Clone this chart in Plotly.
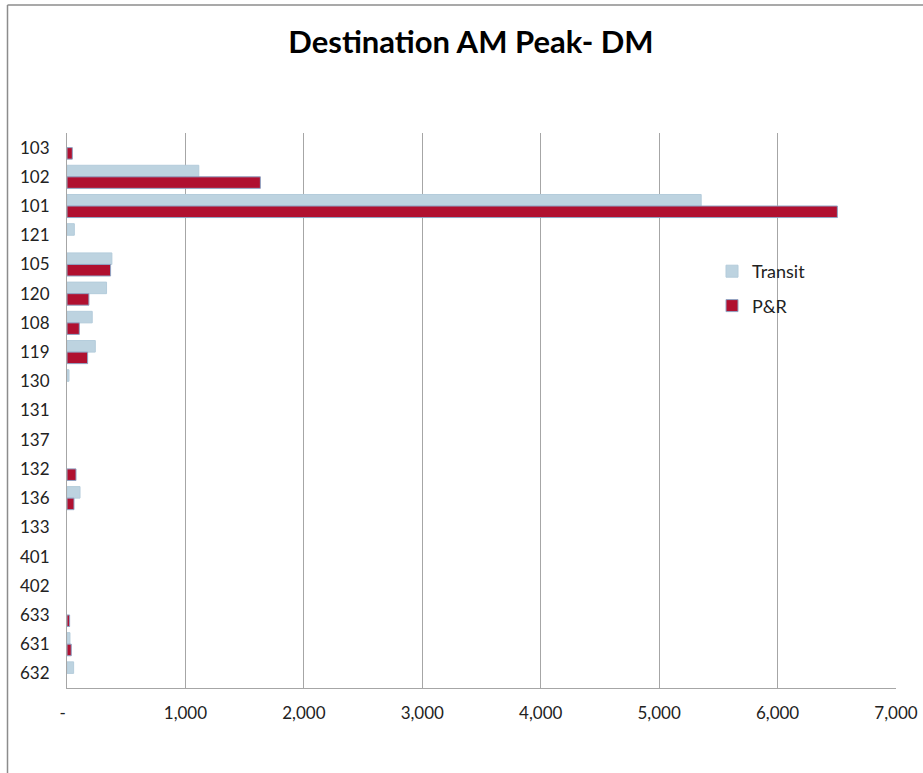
import plotly.graph_objects as go

categories = ["103", "102", "101", "121", "105", "120", "108", "119", "130", "131",
              "137", "132", "136", "133", "401", "402", "633", "631", "632"]
transit = [0, 1113, 5355, 62, 379, 334, 213, 239, 17, 0,
           0, 0, 110, 0, 0, 0, 0, 25, 56]
pnr = [45, 1633, 6505, 0, 368, 185, 104, 174, 0, 0,
       0, 76, 59, 0, 0, 0, 22, 36, 0]
x_ticks = [0, 1000, 2000, 3000, 4000, 5000, 6000, 7000]
x_tick_text = ["-\u00a0\u00a0", "1,000", "2,000", "3,000", "4,000", "5,000", "6,000", "7,000"]


def hide_zero(vals):
    return [v if v != 0 else None for v in vals]


fig = go.Figure()
fig.add_trace(go.Bar(
    y=categories, x=hide_zero(transit), orientation="h", name="Transit",
    legendgroup="t",
    marker=dict(color="#BDD3E0", line=dict(color="#B4CCDB", width=1)),
))
fig.add_trace(go.Bar(
    y=categories, x=hide_zero(pnr), orientation="h", name="P&R",
    legendgroup="p",
    marker=dict(color="#B01030", line=dict(color="#8FA4C4", width=1)),
))

W, H = 923, 773
L, R, T, B = 67, 27, 133, 85
pw, ph = W - L - R, H - T - B


def px_x(p):
    return (p - L) / pw


def px_y(p):
    return (H - B - p) / ph


fig.update_layout(
    template="none",
    width=W, height=H,
    margin=dict(l=L, r=R, t=T, b=B, autoexpand=False),
    paper_bgcolor="white", plot_bgcolor="white",
    barmode="group", bargap=0.21, bargroupgap=0.0,
    font=dict(family="Lato, 'Open Sans', sans-serif", color="#222222", size=17),
    title=dict(text="<b>Destination AM Peak- DM</b>", x=471 / W, xanchor="center",
               y=1 - 42 / H, yanchor="middle",
               font=dict(family="Lato, 'Open Sans', sans-serif", size=31, color="#000000")),
    showlegend=True,
    legend=dict(x=px_x(712), y=px_y(253), xanchor="left", yanchor="top",
                bgcolor="rgba(0,0,0,0)", tracegroupgap=8,
                font=dict(size=18, color="#222222"), itemwidth=30),
    xaxis=dict(type="linear", range=[0, 7000], tickvals=x_ticks, ticktext=x_tick_text,
               automargin=False,
               showgrid=True, gridcolor="#A6A6A6", gridwidth=1,
               showline=True, linecolor="#A6A6A6", linewidth=1,
               zeroline=False, ticks="", ticklabelstandoff=10,
               tickfont=dict(size=17, color="#222222"), mirror=False),
    yaxis=dict(type="category", categoryorder="array", categoryarray=categories,
               autorange="reversed", automargin=False,
               showgrid=False, showline=True, linecolor="#A6A6A6", linewidth=1,
               ticks="", ticklabelstandoff=13,
               tickfont=dict(size=17, color="#222222")),
    shapes=[
        dict(type="line", xref="paper", yref="paper",
             x0=px_x(7.5), x1=px_x(7.5), y0=px_y(5), y1=px_y(790),
             line=dict(color="#8C8C8C", width=1.5)),
        dict(type="line", xref="paper", yref="paper",
             x0=px_x(7.5), x1=px_x(940), y0=px_y(5), y1=px_y(5),
             line=dict(color="#8C8C8C", width=1.5)),
    ],
)

fig.write_html("out.html",
               config={"displayModeBar": False},
               post_script="document.body.style.margin='0';document.body.style.overflow='hidden';")
